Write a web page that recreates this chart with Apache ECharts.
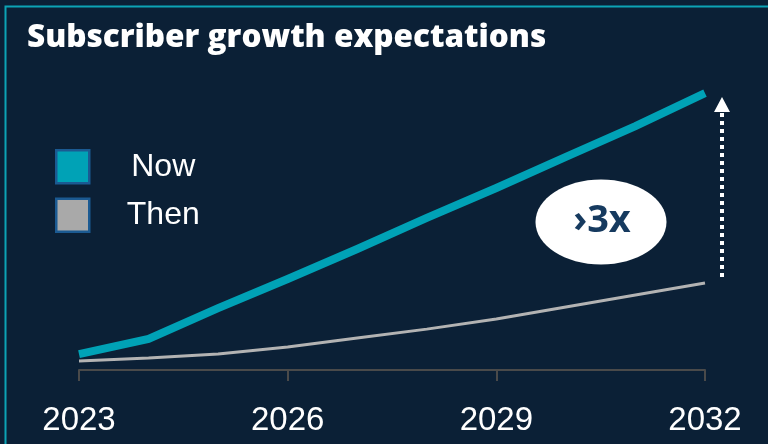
<!DOCTYPE html>
<html>
<head>
<meta charset="utf-8">
<script src="https://cdn.jsdelivr.net/npm/echarts@6/dist/echarts.min.js"></script>
<style>
  html, body { margin: 0; padding: 0; background: #0b2036; }
  #chart { width: 768px; height: 444px; }
</style>
</head>
<body>
<div id="chart"></div>
<script>
// Subscriber growth expectations, indexed so that the current 2032 outlook is ~100
const years = ['2023', '2024', '2025', '2026', '2027', '2028', '2029', '2030', '2031', '2032'];
const nowValues = [5.7, 11.1, 22.1, 32.5, 43.2, 54.3, 65.0, 76.1, 87.1, 98.9];
const thenValues = [3.2, 4.3, 5.7, 8.2, 11.4, 14.6, 18.2, 22.5, 26.8, 31.1];
const seriesNames = ['Now', 'Then'];
const badgeText = '›3x';
const titleText = 'Subscriber growth expectations';

const NOW_COLOR = '#00a2b6';
const THEN_COLOR = '#b3b3b3';
const FRAME_COLOR = '#0ca3b5';

const chart = echarts.init(document.getElementById('chart'));

chart.setOption({
  backgroundColor: '#0b2036',
  animation: false,
  title: {
    text: titleText,
    left: 27,
    top: 22,
    padding: 0,
    textStyle: {
      color: '#ffffff',
      fontFamily: 'Open Sans',
      fontWeight: 800,
      fontSize: 31.5
    }
  },
  legend: {
    orient: 'vertical',
    left: 55,
    top: 149,
    padding: 0,
    itemWidth: 33,
    itemHeight: 33,
    itemGap: 13,
    icon: 'rect',
    data: seriesNames.map((n, i) => ({
      name: n,
      itemStyle: {
        color: i === 0 ? NOW_COLOR : '#a9a9a9',
        borderColor: '#1b5a92',
        borderWidth: 2.5
      }
    })),
    formatter: name => '{n|' + name + '}',
    textStyle: {
      rich: {
        n: {
          width: 138,
          align: 'center',
          color: '#ffffff',
          fontFamily: 'Liberation Sans',
          fontSize: 32
        }
      }
    }
  },
  grid: {
    left: 79,
    right: 63,
    top: 90,
    bottom: 74
  },
  xAxis: {
    type: 'category',
    data: years,
    boundaryGap: false,
    axisLine: { lineStyle: { color: '#4a4a4a', width: 2 } },
    axisTick: { interval: 2, length: 11, lineStyle: { color: '#4a4a4a', width: 2 } },
    axisLabel: {
      interval: 2,
      margin: 34,
      color: '#ffffff',
      fontFamily: 'Liberation Sans',
      fontSize: 33
    }
  },
  yAxis: {
    type: 'value',
    min: 0,
    max: 100,
    show: false
  },
  series: [
    {
      name: seriesNames[0],
      type: 'line',
      data: nowValues,
      showSymbol: false,
      symbol: 'none',
      lineStyle: { color: NOW_COLOR, width: 8, cap: 'butt', join: 'miter' },
      itemStyle: { color: NOW_COLOR },
      z: 3
    },
    {
      name: seriesNames[1],
      type: 'line',
      data: thenValues,
      showSymbol: false,
      symbol: 'none',
      lineStyle: { color: THEN_COLOR, width: 3 },
      itemStyle: { color: THEN_COLOR },
      z: 2
    }
  ]
});

// Annotations: frame, growth badge and dotted arrow spanning Then→Now at the last year
function drawAnnotations() {
  const last = years.length - 1;
  const top = chart.convertToPixel({ seriesIndex: 0 }, [last, nowValues[last]]);
  const bottom = chart.convertToPixel({ seriesIndex: 1 }, [last, thenValues[last]]);
  const ax = top[0] + 17;
  const headTop = top[1] + 4;
  const headBase = headTop + 15;
  const shaftBottom = bottom[1] - 6;

  chart.setOption({
    graphic: [
      {
        type: 'polyline',
        silent: true,
        shape: { points: [[5.5, 444], [5.5, 6.5], [768, 6.5]] },
        style: { stroke: FRAME_COLOR, lineWidth: 2, fill: null }
      },
      {
        type: 'ellipse',
        silent: true,
        shape: { cx: 601, cy: 222, rx: 65.5, ry: 42.5 },
        style: { fill: '#ffffff' }
      },
      {
        type: 'text',
        silent: true,
        x: 602,
        y: 221,
        style: {
          text: badgeText,
          fill: '#163a5f',
          font: 'bold 38px "Open Sans"',
          align: 'center',
          verticalAlign: 'middle'
        }
      },
      {
        type: 'line',
        silent: true,
        shape: { x1: ax, y1: shaftBottom, x2: ax, y2: headBase },
        style: { stroke: '#ffffff', lineWidth: 4, lineDash: [4, 4] }
      },
      {
        type: 'polygon',
        silent: true,
        shape: { points: [[ax, headTop], [ax - 8, headBase], [ax + 8, headBase]] },
        style: { fill: '#ffffff' }
      }
    ]
  });
}
drawAnnotations();
</script>
</body>
</html>
